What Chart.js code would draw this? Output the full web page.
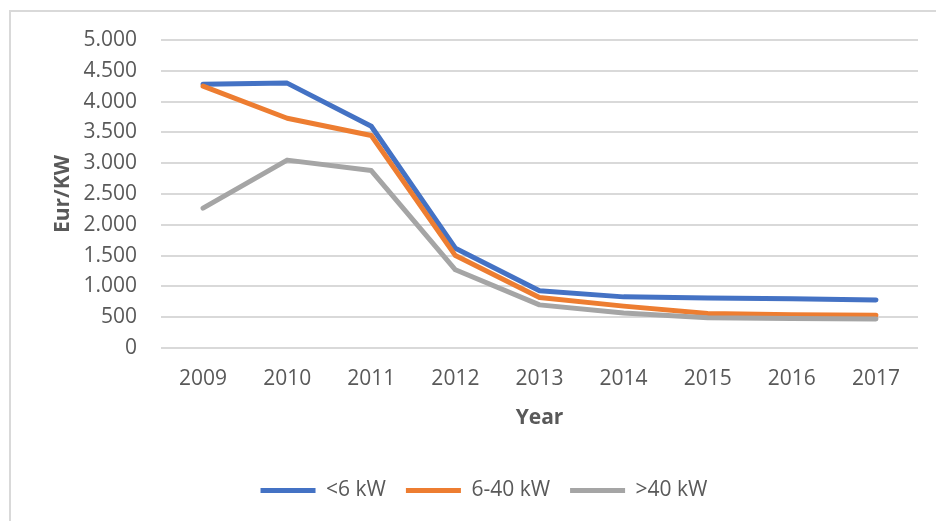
<!DOCTYPE html>
<html>
<head>
<meta charset="utf-8">
<script src="https://cdn.jsdelivr.net/npm/chart.js@4.4.1/dist/chart.umd.min.js"></script>
<style>
    html, body { margin: 0; padding: 0; background: #fff; overflow: hidden; }
    #frame {
        position: absolute; left: 9px; top: 10px; width: 1000px; height: 600px;
        border-left: 2px solid #d9d9d9; border-top: 2px solid #d9d9d9;
    }
    #wrap { position: absolute; left: 0; top: 0; width: 936px; height: 521px; }
</style>
</head>
<body>
<div id="frame"></div>
<div id="wrap"><canvas id="line-chart"></canvas></div>
<script>
"use strict";

//=> Data
var years = ['2009', '2010', '2011', '2012', '2013', '2014', '2015', '2016', '2017'];
var under6 = [4280, 4300, 3600, 1620, 930, 830, 810, 800, 780];
var from6to40 = [4250, 3730, 3450, 1500, 820, 680, 560, 540, 530];
var over40 = [2270, 3050, 2880, 1270, 700, 570, 490, 480, 470];
var seriesNames = ['<6 kW', '6-40 kW', '>40 kW'];

var textColor = '#595959';
var fontFamily = "'Open Sans', sans-serif";

function dotThousands(v) {
    return String(v).replace(/\B(?=(\d{3})+(?!\d))/g, '.');
}

function lineSet(label, data, color, order) {
    return {
        label: label,
        data: data,
        borderColor: color,
        backgroundColor: color,
        borderWidth: 5,
        borderCapStyle: 'round',
        borderJoinStyle: 'round',
        tension: 0,
        pointRadius: 0,
        pointHoverRadius: 0,
        fill: false,
        order: order
    };
}

var ctx = document.getElementById('line-chart').getContext('2d');
var myChart = new Chart(ctx, {
    type: 'line',
    data: {
        labels: years,
        datasets: [
            lineSet(seriesNames[0], under6, '#4472c4', 3),
            lineSet(seriesNames[1], from6to40, '#ed7d31', 2),
            lineSet(seriesNames[2], over40, '#a5a5a5', 1)
        ]
    },
    options: {
        responsive: true,
        maintainAspectRatio: false,
        animation: false,
        layout: { padding: { left: 50, top: 40, right: 18, bottom: 10 } },
        plugins: {
            tooltip: { enabled: false },
            legend: {
                position: 'bottom',
                labels: {
                    usePointStyle: true,
                    pointStyle: 'line',
                    pointStyleWidth: 55,
                    padding: 20,
                    color: textColor,
                    font: { family: fontFamily, size: 21 },
                    sort: function (a, b) { return a.datasetIndex - b.datasetIndex; }
                }
            }
        },
        scales: {
            x: {
                offset: true,
                grid: { display: false, drawTicks: false },
                border: { display: false },
                ticks: { color: textColor, padding: 18, font: { family: fontFamily, size: 21 } },
                title: {
                    display: true,
                    text: 'Year',
                    color: textColor,
                    padding: { top: 0, bottom: 29 },
                    font: { family: fontFamily, size: 21, weight: 'bold' }
                },
                afterFit: function (scale) { scale.height = 112; }
            },
            y: {
                min: 0,
                max: 5000,
                grid: { color: '#d9d9d9', lineWidth: 2, drawTicks: false },
                border: { display: false },
                ticks: {
                    stepSize: 500,
                    padding: 24,
                    color: textColor,
                    font: { family: fontFamily, size: 21 },
                    callback: function (v) { return dotThousands(v); }
                },
                title: {
                    display: true,
                    text: 'Eur/KW',
                    color: textColor,
                    padding: 0,
                    font: { family: fontFamily, size: 21, weight: 'bold' }
                },
                afterFit: function (scale) { scale.width = 111; }
            }
        }
    }
});
</script>
</body>
</html>
